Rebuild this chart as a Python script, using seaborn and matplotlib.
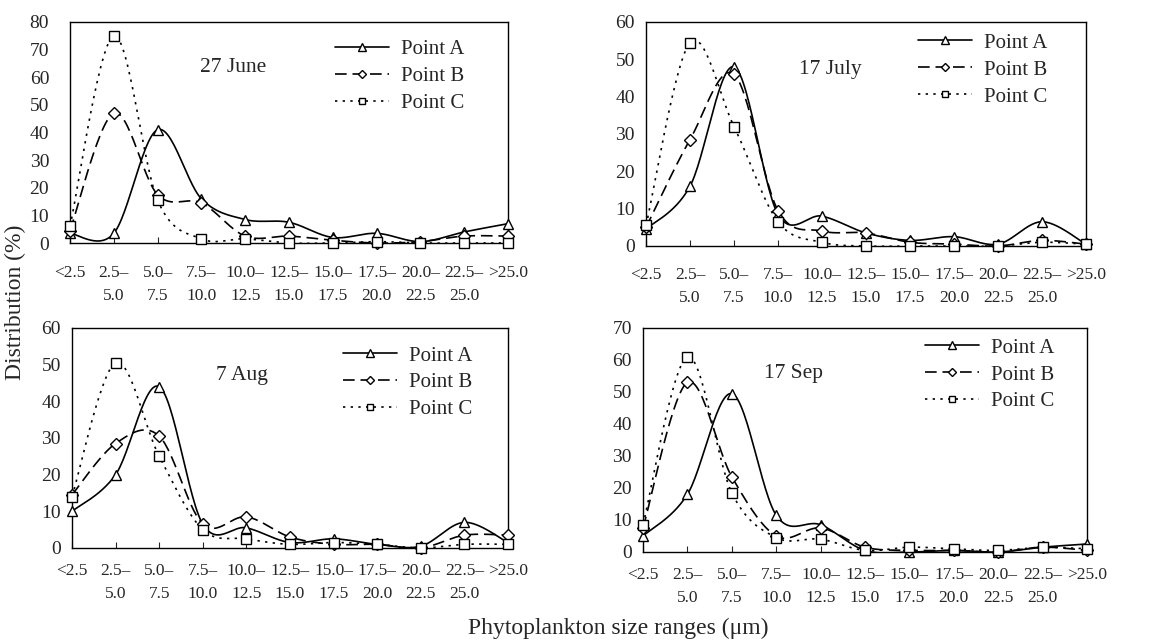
import numpy as np
import pandas as pd
import matplotlib
matplotlib.use("Agg")
import matplotlib.pyplot as plt
from matplotlib.lines import Line2D
import seaborn as sns

# size classes (um)
categories = ["<2.5", "2.5\u2013\n5.0", "5.0\u2013\n7.5", "7.5\u2013\n10.0", "10.0\u2013\n12.5",
              "12.5\u2013\n15.0", "15.0\u2013\n17.5", "17.5\u2013\n20.0", "20.0\u2013\n22.5",
              "22.5\u2013\n25.0", ">25.0"]
dates = ["27 June", "17 July", "7 Aug", "17 Sep"]
series_names = ["Point A", "Point B", "Point C"]

# distribution (%)
june_a = [3.5, 3.5, 41, 16, 8.5, 7.5, 2, 3.5, 0.5, 4, 7]
june_b = [4.5, 47, 17.5, 14.5, 2.5, 2.5, 1, 0, 0.5, 2.5, 2.5]
june_c = [6, 75, 15.5, 1.5, 1.5, 0, 0, 0.5, 0, 0, 0]

july_a = [4.5, 16, 48, 8.5, 8, 3.5, 1.5, 2.5, 0.5, 6.5, 0.5]
july_b = [5, 28.5, 46, 9.5, 4, 3.5, 1, 0.5, 0, 1.5, 0.5]
july_c = [5.5, 54.5, 32, 6.5, 1, 0, 0, 0, 0, 1, 0.5]

aug_a = [10, 20, 44, 6.5, 5.5, 1.5, 2.5, 1, 0.5, 7, 1.5]
aug_b = [14.5, 28.5, 30.5, 6.5, 8.5, 3, 1, 1, 0, 3.5, 3.5]
aug_c = [14, 50.5, 25, 5, 2.5, 1, 1.5, 1, 0, 1, 1]

sep_a = [5, 18, 49.5, 11.5, 8.5, 0.5, 0, 0.5, 0, 1.5, 2.5]
sep_b = [7.5, 53, 23.5, 5, 7.5, 1.5, 0.5, 0.5, 0, 1.5, 0.5]
sep_c = [8.5, 61, 18.5, 4.5, 4, 0.5, 1.5, 1, 0.5, 1.5, 1]

y_max = [80, 60, 60, 70]

panel_data = [(june_a, june_b, june_c), (july_a, july_b, july_c),
              (aug_a, aug_b, aug_c), (sep_a, sep_b, sep_c)]


def smooth(y, n=30):
    # excel-like smoothed line: catmull-rom segments as cubic beziers
    x = np.arange(len(y), dtype=float)
    y = np.asarray(y, dtype=float)
    px = np.concatenate([[x[0]], x, [x[-1]]])
    py = np.concatenate([[y[0]], y, [y[-1]]])
    xs, ys = [], []
    t = np.linspace(0, 1, n)
    for i in range(len(y) - 1):
        x0, y0 = px[i + 1], py[i + 1]
        x3, y3 = px[i + 2], py[i + 2]
        x1 = x0 + (x3 - px[i]) / 6
        y1 = y0 + (y3 - py[i]) / 6
        x2 = x3 - (px[i + 3] - x0) / 6
        y2 = y3 - (py[i + 3] - y0) / 6
        bx = (1-t)**3*x0 + 3*(1-t)**2*t*x1 + 3*(1-t)*t**2*x2 + t**3*x3
        by = (1-t)**3*y0 + 3*(1-t)**2*t*y1 + 3*(1-t)*t**2*y2 + t**3*y3
        if i > 0:
            bx, by = bx[1:], by[1:]
        xs.extend(bx)
        ys.extend(by)
    return np.array(xs), np.array(ys)


sns.set_style("ticks")
plt.rcParams["font.family"] = ["Liberation Serif", "DejaVu Serif"]

W, H = 1175, 641
fig = plt.figure(figsize=(W / 100, H / 100), dpi=100)
fig.patch.set_facecolor("white")

# axes boxes in pixels: left, right, top, bottom
boxes = [(70, 508, 22, 243), (646, 1086, 22, 246), (72, 508, 328, 548), (643, 1087, 328, 552)]
title_pos = [(0.372, 0.796), (0.418, 0.786), (0.39, 0.782), (0.34, 0.795)]
legend_pos = [(0.605, 0.92), (0.618, 0.95), (0.622, 0.918), (0.635, 0.955)]
ypads = [15, 8, 8, 8]
xpads = [16, 15, 11, 11]

lw = 1.2
styles = [dict(linestyle="-", marker="^"),
          dict(linestyle=(0, (7, 3.5)), marker="D"),
          dict(linestyle=(0, (1.4, 3.2)), marker="s")]
msizes = [7.5, 6, 6.5]

for k in range(4):
    l, r, t, b = boxes[k]
    ax = fig.add_axes([l / W, (H - b) / H, (r - l) / W, (b - t) / H])
    ax.set_facecolor("white")
    for j, vals in enumerate(panel_data[k]):
        xs, ys = smooth(vals)
        df = pd.DataFrame({"x": xs, "y": ys})
        sns.lineplot(data=df, x="x", y="y", ax=ax, color="black", lw=lw,
                     linestyle=styles[j]["linestyle"], sort=False, estimator=None)
        ax.plot(range(len(vals)), vals, linestyle="none", marker=styles[j]["marker"],
                ms=msizes[j], mfc="white", mec="black", mew=1.0, clip_on=False, zorder=5)
    ax.set_xlim(0, len(categories) - 1)
    ax.set_ylim(0, y_max[k])
    ax.set_yticks(np.arange(0, y_max[k] + 1, 10))
    ax.set_xticks(range(len(categories)))
    ax.set_xticklabels(categories, fontsize=12.5, multialignment="center",
                       linespacing=1.6)
    ax.tick_params(axis="x", direction="in", length=4, width=0.8, pad=xpads[k])
    ax.tick_params(axis="y", length=0, pad=ypads[k], labelsize=14)
    ax.set_xlabel("")
    ax.set_ylabel("")
    for s in ax.spines.values():
        s.set_visible(True)
        s.set_color("black")
        s.set_linewidth(1.0)
    ax.text(title_pos[k][0], title_pos[k][1], dates[k], transform=ax.transAxes,
            fontsize=15.5, ha="center", va="center")
    handles = [Line2D([], [], color="black", lw=lw, linestyle=styles[j]["linestyle"],
                      marker=styles[j]["marker"], ms=msizes[j] * 0.75, mfc="white",
                      mec="black", mew=1.0) for j in range(3)]
    ax.legend(handles, series_names, loc="upper left", bbox_to_anchor=legend_pos[k],
              frameon=False, fontsize=15, handlelength=2.6, handletextpad=0.55,
              labelspacing=0.35, borderpad=0, borderaxespad=0, numpoints=1)

fig.text(15 / W, 1 - 302 / H, "Distribution (%)", rotation=90, ha="center", va="center",
         fontsize=17)
fig.text(618 / W, 1 - 628 / H, "Phytoplankton size ranges (\u03bcm)", ha="center",
         va="center", fontsize=17)

fig.savefig("out.png", dpi=100, facecolor="white")
